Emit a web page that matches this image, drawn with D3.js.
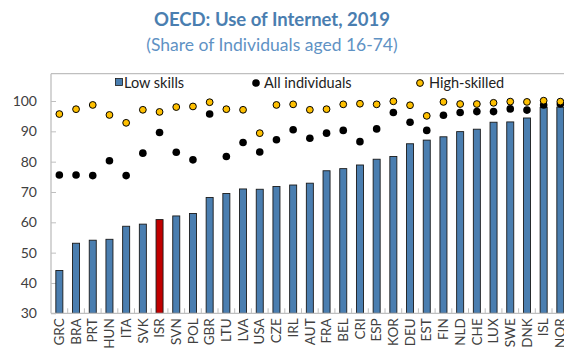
<!DOCTYPE html>
<html><head><meta charset="utf-8">
<script src="https://cdn.jsdelivr.net/npm/d3@7"></script>
<style>html,body{margin:0;padding:0;background:#fff;overflow:hidden}</style>
</head><body>
<svg id="chart" width="564" height="353"></svg>
<script>
const countries = ["GRC","BRA","PRT","HUN","ITA","SVK","ISR","SVN","POL","GBR","LTU","LVA","USA","CZE","IRL","AUT","FRA","BEL","CRI","ESP","KOR","DEU","EST","FIN","NLD","CHE","LUX","SWE","DNK","ISL","NOR"];
const lowSkills = [44.1,53.1,54.1,54.4,58.7,59.4,60.9,62.1,62.9,68.2,69.5,71.0,70.9,71.8,72.3,72.9,77.0,77.7,78.9,80.8,81.7,85.9,87.1,88.2,89.9,90.7,93.0,93.1,94.4,97.9,98.0];
const allIndividuals = [75.6,75.6,75.4,80.3,75.4,82.8,89.6,83.1,80.6,95.7,81.7,86.3,83.2,87.2,90.5,87.7,89.4,90.3,86.6,90.8,96.2,93.0,90.3,95.3,96.2,96.5,96.5,97.4,97.0,98.7,99.0];
const highSkilled = [95.7,97.3,98.7,95.4,92.8,97.1,96.4,98.0,98.2,99.6,97.3,97.1,89.4,98.7,98.9,97.1,97.3,98.9,99.1,98.9,99.9,98.6,95.1,99.7,99.0,99.0,99.4,99.8,99.7,100.1,99.8];
const yTicks = [30,40,50,60,70,80,90,100];
const highlight = "ISR";

const svg = d3.select("#chart");
const FONT = "Lato, 'Open Sans', sans-serif";
const left = 51, bottom = 313.3;
const x = d3.scaleBand().domain(countries).range([left, left + 31*16.7]).paddingInner(0.58).paddingOuter(0.29);
const y = d3.scaleLinear().domain([30,100]).range([bottom, 101]);
const topY = y(109);

// title
svg.append("text").attr("x",272).attr("y",26).attr("text-anchor","middle")
  .attr("font-family",FONT).attr("font-weight","bold").attr("font-size",18.5).attr("fill","#4a7eb0")
  .text("OECD: Use of Internet, 2019");
svg.append("text").attr("x",272).attr("y",51).attr("text-anchor","middle")
  .attr("font-family",FONT).attr("font-size",17.5).attr("fill","#5f92c4")
  .text("(Share of Individuals aged 16-74)");

// frame (left + top)
svg.append("line").attr("x1",left).attr("x2",left).attr("y1",topY).attr("y2",bottom).attr("stroke","#bfbfbf").attr("stroke-width",1.3);
svg.append("line").attr("x1",left).attr("x2",564).attr("y1",topY).attr("y2",topY).attr("stroke","#bfbfbf").attr("stroke-width",1.3);

// y axis
const yAxis = d3.axisLeft(y).tickValues(yTicks).tickSize(-5).tickPadding(14).tickFormat(d3.format("d"));
const gy = svg.append("g").attr("transform",`translate(${left},0)`).call(yAxis);
gy.select(".domain").remove();
gy.selectAll(".tick line").attr("stroke","#bfbfbf");
gy.selectAll(".tick text").attr("font-family",FONT).attr("font-size",14).attr("fill","#404040");

// bars
svg.append("g").selectAll("rect").data(countries).join("rect")
  .attr("x",d=>x(d)).attr("width",x.bandwidth())
  .attr("y",(d,i)=>y(lowSkills[i])).attr("height",(d,i)=>bottom - y(lowSkills[i]))
  .attr("fill",d=>d===highlight?"#c00000":"#4a7eb0").attr("stroke","#1a1a1a").attr("stroke-width",0.9);

// x axis
const xAxis = d3.axisBottom(x).tickSize(0).tickPadding(5);
const gx = svg.append("g").attr("transform",`translate(0,${bottom})`).call(xAxis);
gx.select(".domain").attr("stroke","#bfbfbf").attr("stroke-width",1.3).attr("d",`M${left},0H564`);
gx.selectAll(".tick text").attr("font-family",FONT).attr("font-size",13.5).attr("fill","#404040")
  .attr("transform","rotate(-90)").attr("text-anchor","end").attr("dy","0.35em")
  .attr("x",-5).attr("y",0);
// boundary ticks between bands (inward)
svg.append("g").selectAll("line").data(d3.range(1, countries.length)).join("line")
  .attr("x1",i=>x(countries[i]) - x.step()*x.paddingInner()/2).attr("x2",i=>x(countries[i]) - x.step()*x.paddingInner()/2)
  .attr("y1",bottom).attr("y2",bottom-5).attr("stroke","#bfbfbf").attr("stroke-width",1);

// dots
const cx = d => x(d) + x.bandwidth()/2;
svg.append("g").selectAll("circle").data(countries).join("circle")
  .attr("cx",cx).attr("cy",(d,i)=>y(allIndividuals[i])).attr("r",3.8).attr("fill","#000");
svg.append("g").selectAll("circle").data(countries).join("circle")
  .attr("cx",cx).attr("cy",(d,i)=>y(highSkilled[i])).attr("r",3.4).attr("fill","#ffc000").attr("stroke","#000").attr("stroke-width",1);

// legend
const lg = svg.append("g").attr("font-family",FONT).attr("font-size",14.5).attr("fill","#222");
lg.append("rect").attr("x",115.5).attr("y",78.5).attr("width",7).attr("height",7).attr("fill","#4a7eb0").attr("stroke","#1a1a1a").attr("stroke-width",0.8);
lg.append("text").attr("x",124).attr("y",87.5).text("Low skills");
lg.append("circle").attr("cx",256).attr("cy",83).attr("r",3.8).attr("fill","#000");
lg.append("text").attr("x",264).attr("y",87.5).text("All individuals");
lg.append("circle").attr("cx",420).attr("cy",83).attr("r",3.4).attr("fill","#ffc000").attr("stroke","#000");
lg.append("text").attr("x",429).attr("y",87.5).text("High-skilled");
</script>
</body></html>
